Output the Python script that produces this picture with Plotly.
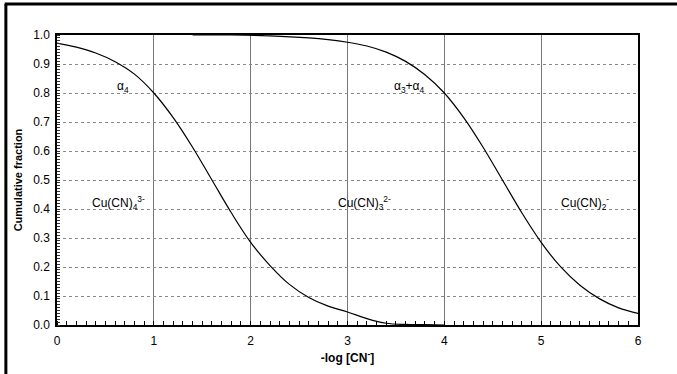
import plotly.graph_objects as go

# -log[CN-] positions and cumulative fractions
x_a4 = [0.0, 0.2, 0.4, 0.6, 0.8, 1.0, 1.2, 1.4, 1.6, 1.8, 2.0, 2.2, 2.4, 2.6, 2.8, 3.0, 3.2, 3.4, 3.6, 3.8, 4.0]
y_a4 = [0.972, 0.958, 0.938, 0.908, 0.865, 0.80, 0.715, 0.613, 0.50, 0.387, 0.285, 0.205, 0.140, 0.095, 0.065, 0.045, 0.022, 0.006, 0.002, 0.001, 0.0]

x_a34 = [1.4, 1.8, 2.2, 2.6, 2.8, 3.0, 3.2, 3.4, 3.6, 3.8, 4.0, 4.2, 4.4, 4.6, 4.8, 5.0, 5.2, 5.4, 5.6, 5.8, 6.0]
y_a34 = [1.0, 1.0, 0.997, 0.99, 0.984, 0.975, 0.962, 0.941, 0.909, 0.863, 0.80, 0.715, 0.613, 0.50, 0.387, 0.285, 0.201, 0.137, 0.091, 0.059, 0.04]

curve_labels = ["α<sub>4</sub>", "α<sub>3</sub>+α<sub>4</sub>"]
curve_label_x = [0.68, 3.64]
curve_label_y = [0.82, 0.82]

species_labels = ["Cu(CN)<sub>4</sub><sup>3-</sup>", "Cu(CN)<sub>3</sub><sup>2-</sup>", "Cu(CN)<sub>2</sub><sup>-</sup>"]
species_x = [0.63, 3.18, 5.45]
species_y = [0.42, 0.42, 0.42]

x_ticks = [0, 1, 2, 3, 4, 5, 6]
y_ticks = [0.0, 0.1, 0.2, 0.3, 0.4, 0.5, 0.6, 0.7, 0.8, 0.9, 1.0]

FONT = "Liberation Sans, Arial, sans-serif"

fig = go.Figure()
fig.add_trace(go.Scatter(x=x_a4, y=y_a4, mode="lines", line=dict(color="black", width=1.2, shape="spline"), showlegend=False))
fig.add_trace(go.Scatter(x=x_a34, y=y_a34, mode="lines", line=dict(color="black", width=1.2, shape="spline"), showlegend=False))

for t, xx, yy in zip(curve_labels, curve_label_x, curve_label_y):
    fig.add_annotation(x=xx, y=yy, text=t, showarrow=False, font=dict(family=FONT, size=12, color="black"))
for t, xx, yy in zip(species_labels, species_x, species_y):
    fig.add_annotation(x=xx, y=yy, text=t, showarrow=False, font=dict(family=FONT, size=12, color="black"))

fig.update_xaxes(
    range=[0, 6], tickvals=x_ticks, ticktext=[str(v) for v in x_ticks],
    showgrid=True, gridcolor="#777777", gridwidth=1,
    showline=True, linecolor="black", linewidth=1.5, mirror=True,
    ticks="", zeroline=False, ticklabelstandoff=4,
    minor=dict(dtick=0.1, ticks="inside", ticklen=4, tickcolor="black", showgrid=False),
    tickfont=dict(family=FONT, size=12, color="black"),
    title=dict(text="<b>-log [CN<sup>-</sup>]</b>", font=dict(family=FONT, size=12, color="black"), standoff=6),
)
fig.update_yaxes(
    range=[0, 1.0], tickvals=y_ticks, ticktext=["%.1f" % v for v in y_ticks],
    showgrid=True, gridcolor="#888888", gridwidth=1, griddash="dot",
    showline=True, linecolor="black", linewidth=1.5, mirror=True,
    ticks="", zeroline=False, ticklabelstandoff=3,
    minor=dict(dtick=0.01, ticks="inside", ticklen=3, tickcolor="#333333", showgrid=False),
    tickfont=dict(family=FONT, size=12, color="black"),
    title=dict(text="<b>Cumulative fraction</b>", font=dict(family=FONT, size=11, color="black"), standoff=8),
)

# outer frame lines (top and left) of the scanned figure
fig.add_shape(type="line", xref="paper", yref="paper", x0=-0.09, x1=1.1, y0=1.107, y1=1.107, line=dict(color="black", width=3))
fig.add_shape(type="line", xref="paper", yref="paper", x0=-0.088, x1=-0.088, y0=1.107, y1=-0.2, line=dict(color="black", width=3))

fig.update_layout(
    width=677, height=374,
    margin=dict(l=57, r=39, t=35, b=49),
    paper_bgcolor="white", plot_bgcolor="white",
    font=dict(family=FONT, color="black"),
)
fig.write_html("out.html")
